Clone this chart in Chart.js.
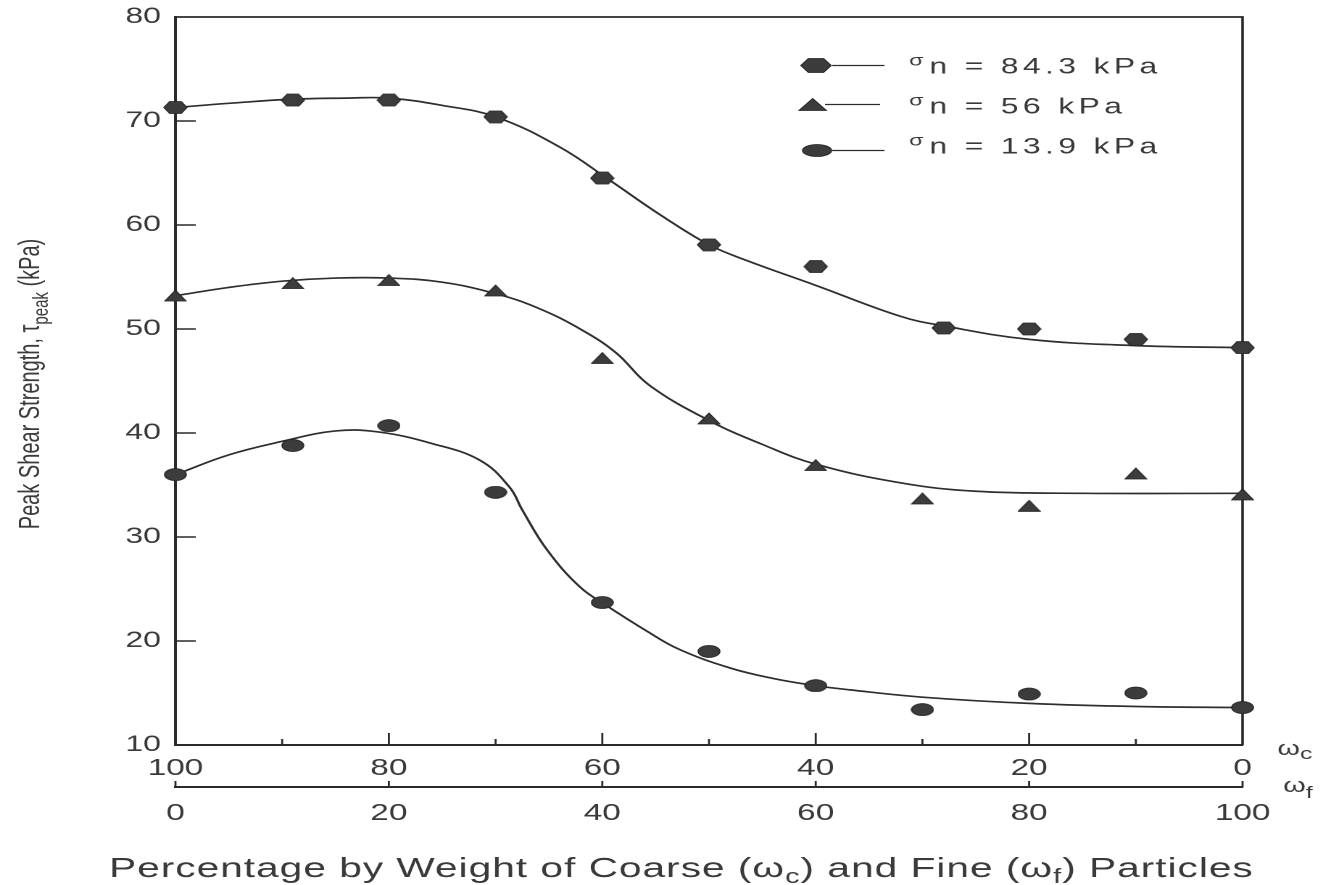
<!DOCTYPE html>
<html>
<head>
<meta charset="utf-8">
<script src="https://cdn.jsdelivr.net/npm/chart.js@4.4.0/dist/chart.umd.min.js"></script>
<style>
  html, body { margin:0; padding:0; background:#fff; }
</style>
</head>
<body>
<!-- the source figure is stretched sideways, so the canvas is drawn narrow and shown wide -->
<canvas id="chart" width="918" height="885" style="display:block;width:1331px;height:885px"></canvas>
<script>
// measured points, x = omega_c (%), y = peak shear strength (kPa)
const hexX = [100, 89, 80, 70, 60, 50, 40, 28, 20, 10, 0];
const hexY = [71.3, 72.0, 72.0, 70.4, 64.5, 58.1, 56.0, 50.1, 50.0, 49.0, 48.2];
const triX = [100, 89, 80, 70, 60, 50, 40, 30, 20, 10, 0];
const triY = [53.2, 54.4, 54.7, 53.7, 47.2, 41.4, 36.9, 33.7, 33.0, 36.1, 34.1];
const cirX = [100, 89, 80, 70, 60, 50, 40, 30, 20, 10, 0];
const cirY = [36.0, 38.8, 40.7, 34.3, 23.7, 19.0, 15.7, 13.4, 14.9, 15.0, 13.6];

// hand-drawn fitted curves
const hexFitX = [100, 95, 89, 84, 80, 75, 70, 64, 59.3, 54.6, 50, 46.5, 40, 32, 28, 20, 10, 0];
const hexFitY = [71.3, 71.7, 72.1, 72.2, 72.2, 71.5, 70.4, 67.5, 64.3, 61.0, 58.1, 56.6, 54.2, 51.2, 50.3, 49.0, 48.4, 48.2];
const triFitX = [100, 95, 90, 85, 80, 75, 70, 66, 61.9, 58.7, 55.6, 50, 45, 40, 32, 25, 15, 0];
const triFitY = [53.2, 54.0, 54.6, 54.9, 54.9, 54.5, 53.4, 52.0, 49.9, 47.7, 44.6, 41.2, 38.9, 37.0, 35.2, 34.4, 34.2, 34.2];
const cirFitX = [100, 95, 90, 85, 81, 76, 71.5, 68.7, 67.5, 65.2, 62.1, 59.6, 55.9, 52.8, 48, 44, 40, 36.8, 30, 20, 10, 0];
const cirFitY = [36.0, 37.9, 39.2, 40.2, 40.1, 39.0, 37.4, 34.8, 32.6, 28.8, 25.2, 23.4, 21.0, 19.2, 17.4, 16.4, 15.7, 15.3, 14.6, 14.0, 13.7, 13.6];

const legendLabels = ['84.3', '56', '13.9'];
const yTitle = 'Peak Shear Strength, τ';
const xTitle = ['Percentage by Weight of Coarse (ω', 'c', ') and Fine (ω', 'f', ') Particles'];

const FONT = "'Liberation Sans', Arial, sans-serif";
const TXT = '#3a3a3a';
const AXIS = '#2a2a2a';
const LINE = '#2e2e2e';
const MARK = '#3c3c3c';

function shapePath(g, kind, cx, cy, w, h){
  g.beginPath();
  if (kind === 'hex'){
    g.moveTo(cx - w/2, cy);
    g.lineTo(cx - w/4, cy - h/2);
    g.lineTo(cx + w/4, cy - h/2);
    g.lineTo(cx + w/2, cy);
    g.lineTo(cx + w/4, cy + h/2);
    g.lineTo(cx - w/4, cy + h/2);
    g.closePath();
  } else if (kind === 'tri'){
    g.moveTo(cx, cy - h/2);
    g.lineTo(cx + w/2, cy + h/2);
    g.lineTo(cx - w/2, cy + h/2);
    g.closePath();
  } else {
    g.ellipse(cx, cy, w/2, h/2, 0, 0, Math.PI*2);
  }
}

function paintMark(g, kind, cx, cy, w, h){
  shapePath(g, kind, cx, cy, w, h);
  g.fillStyle = MARK; g.fill();
  g.lineWidth = 0.8; g.strokeStyle = '#262626'; g.stroke();
}

// marker bitmap drawn at 4x, displayed at w x h
function makeMarker(kind, w, h){
  const k = 4, c = document.createElement('canvas');
  c.width = w*k; c.height = h*k;
  const g = c.getContext('2d');
  g.scale(k, k);
  paintMark(g, kind, w/2, h/2, w - 1, h - 1);
  return new Promise(res => {
    const img = new Image(w, h);
    img.onload = () => res(img);
    img.src = c.toDataURL();
  });
}

function xy(xs, ys){ return xs.map((x,i)=>({ x, y: ys[i] })); }

function pts(xs, ys, img){
  return { data: xy(xs, ys), showLine:false, pointStyle: img, pointRadius: 8, clip: false };
}
function fit(xs, ys){
  return { data: xy(xs, ys), borderColor: LINE, borderWidth: 1.7, pointRadius: 0,
           tension: 0.4, fill: false, clip: false };
}

// text with sub/superscript pieces: [text, size, dy]
function drawRich(ctx, parts, x, y, align){
  const widths = parts.map(([t, size]) => { ctx.font = `${size}px ${FONT}`; return ctx.measureText(t).width; });
  const total = widths.reduce((a,b)=>a+b, 0);
  let cx = align === 'center' ? x - total/2 : x;
  parts.forEach(([t, size, dy], i) => {
    ctx.font = `${size}px ${FONT}`;
    ctx.fillText(t, cx, y + dy);
    cx += widths[i];
  });
}

const decor = {
  id: 'decor',
  beforeDatasetsDraw(chart){
    const { ctx, chartArea: a, scales: { x, x2, y } } = chart;
    ctx.save();
    ctx.strokeStyle = AXIS;
    // frame top + right
    ctx.lineWidth = 1.8;
    ctx.beginPath();
    ctx.moveTo(a.left, a.top); ctx.lineTo(a.right, a.top); ctx.lineTo(a.right, a.bottom);
    ctx.stroke();
    // inward tick marks
    ctx.lineWidth = 1.4;
    ctx.beginPath();
    y.ticks.forEach(t => {
      if (t.value <= y.min || t.value >= y.max) return;
      const py = y.getPixelForValue(t.value);
      ctx.moveTo(a.left, py); ctx.lineTo(a.left + 14, py);
    });
    x.ticks.forEach(t => {
      if (t.value <= x.min || t.value >= x.max) return;
      const px = x.getPixelForValue(t.value);
      ctx.moveTo(px, a.bottom); ctx.lineTo(px, a.bottom - (t.value % 20 === 0 ? 12 : 6));
    });
    x2.ticks.forEach(t => {
      const px = x2.getPixelForValue(t.value);
      ctx.moveTo(px, x2.top); ctx.lineTo(px, x2.top - 6);
    });
    ctx.stroke();
    ctx.restore();
  },
  afterDraw(chart){
    const { ctx } = chart;
    ctx.save();
    ctx.fillStyle = TXT;
    ctx.textAlign = 'left';
    ctx.textBaseline = 'alphabetic';

    // legend
    const rows = [
      { kind:'hex', w:21, h:14, mx:562.8, y:65.5, l0:574, l1:610, base:73.3 },
      { kind:'tri', w:19, h:12, mx:560.5, y:104.5, l0:569, l1:607, base:113.5 },
      { kind:'cir', w:20, h:12, mx:563.5, y:150.5, l0:574, l1:610, base:153.5 },
    ];
    rows.forEach((r, i) => {
      ctx.strokeStyle = LINE; ctx.lineWidth = 1.3;
      ctx.beginPath(); ctx.moveTo(r.l0, r.y); ctx.lineTo(r.l1, r.y); ctx.stroke();
      paintMark(ctx, r.kind, r.mx, r.y, r.w, r.h);
      ctx.fillStyle = TXT;
      ctx.font = `16px ${FONT}`;
      ctx.fillText('σ', 627, r.base - 8);
      ctx.letterSpacing = '3px';
      ctx.font = `22px ${FONT}`;
      ctx.fillText(`n = ${legendLabels[i]} kPa`, 641, r.base);
      ctx.letterSpacing = '0px';
    });

    // omega labels at the right of both x axes
    const { x, x2 } = chart.scales;
    drawRich(ctx, [['ω', 20, 0], ['c', 17, 4]], 881, x.top + 10, 'left');
    drawRich(ctx, [['ω', 20, 0], ['f', 17, 6]], 885, x2.top + 5, 'left');

    // x title
    ctx.letterSpacing = '0.7px';
    drawRich(ctx, [[xTitle[0], 28, 0], [xTitle[1], 20, 6], [xTitle[2], 28, 0], [xTitle[3], 20, 6], [xTitle[4], 28, 0]], 470, 877, 'center');
    ctx.letterSpacing = '0px';

    // y title, rotated
    ctx.translate(27, 384);
    ctx.rotate(-Math.PI/2);
    drawRich(ctx, [[yTitle, 20, 0], ['peak', 15, 6], [' (kPa)', 20, 0]], 0, 0, 'center');
    ctx.restore();
  }
};

function axisBase(){
  return {
    type: 'linear', min: 0, max: 100, position: 'bottom',
    grid: { display:false, drawTicks:false, tickLength:0 },
    border: { display:true, color:AXIS, width:2 },
  };
}

async function main(){
  const [hexImg, triImg, cirImg] = await Promise.all([
    makeMarker('hex', 17, 13), makeMarker('tri', 16, 12), makeMarker('cir', 16, 13)
  ]);

  new Chart(document.getElementById('chart'), {
    type: 'line',
    data: { datasets: [
      pts(hexX, hexY, hexImg), pts(triX, triY, triImg), pts(cirX, cirY, cirImg),
      fit(hexFitX, hexFitY), fit(triFitX, triFitY), fit(cirFitX, cirFitY),
    ]},
    options: {
      responsive: false, devicePixelRatio: 2, animation: false, events: [],
      layout: { padding: { top:17, right:61, left:0, bottom:0 } },
      plugins: { legend:{ display:false }, tooltip:{ enabled:false } },
      scales: {
        x: { ...axisBase(), reverse: true, weight: 0,
             ticks: { stepSize:10, autoSkip:false, maxRotation:0, padding:10, color:TXT,
                      font:{ family:FONT, size:23 }, callback: v => v % 20 === 0 ? v : '' },
             afterFit: s => { s.height = 42; } },
        x2: { ...axisBase(), weight: 1,
              ticks: { stepSize:20, autoSkip:false, maxRotation:0, padding:13, color:TXT,
                       font:{ family:FONT, size:23 } },
              afterFit: s => { s.height = 98; } },
        y: { min:10, max:80, position:'left',
             grid: { display:false, drawTicks:false, tickLength:0 },
             border: { display:true, color:AXIS, width:2 },
             ticks: { stepSize:10, padding:10, color:TXT, font:{ family:FONT, size:22 } },
             afterFit: s => { s.width = 121; s.paddingTop = 0; s.paddingBottom = 0; } },
      },
    },
    plugins: [decor],
  });
}

main();
</script>
</body>
</html>
